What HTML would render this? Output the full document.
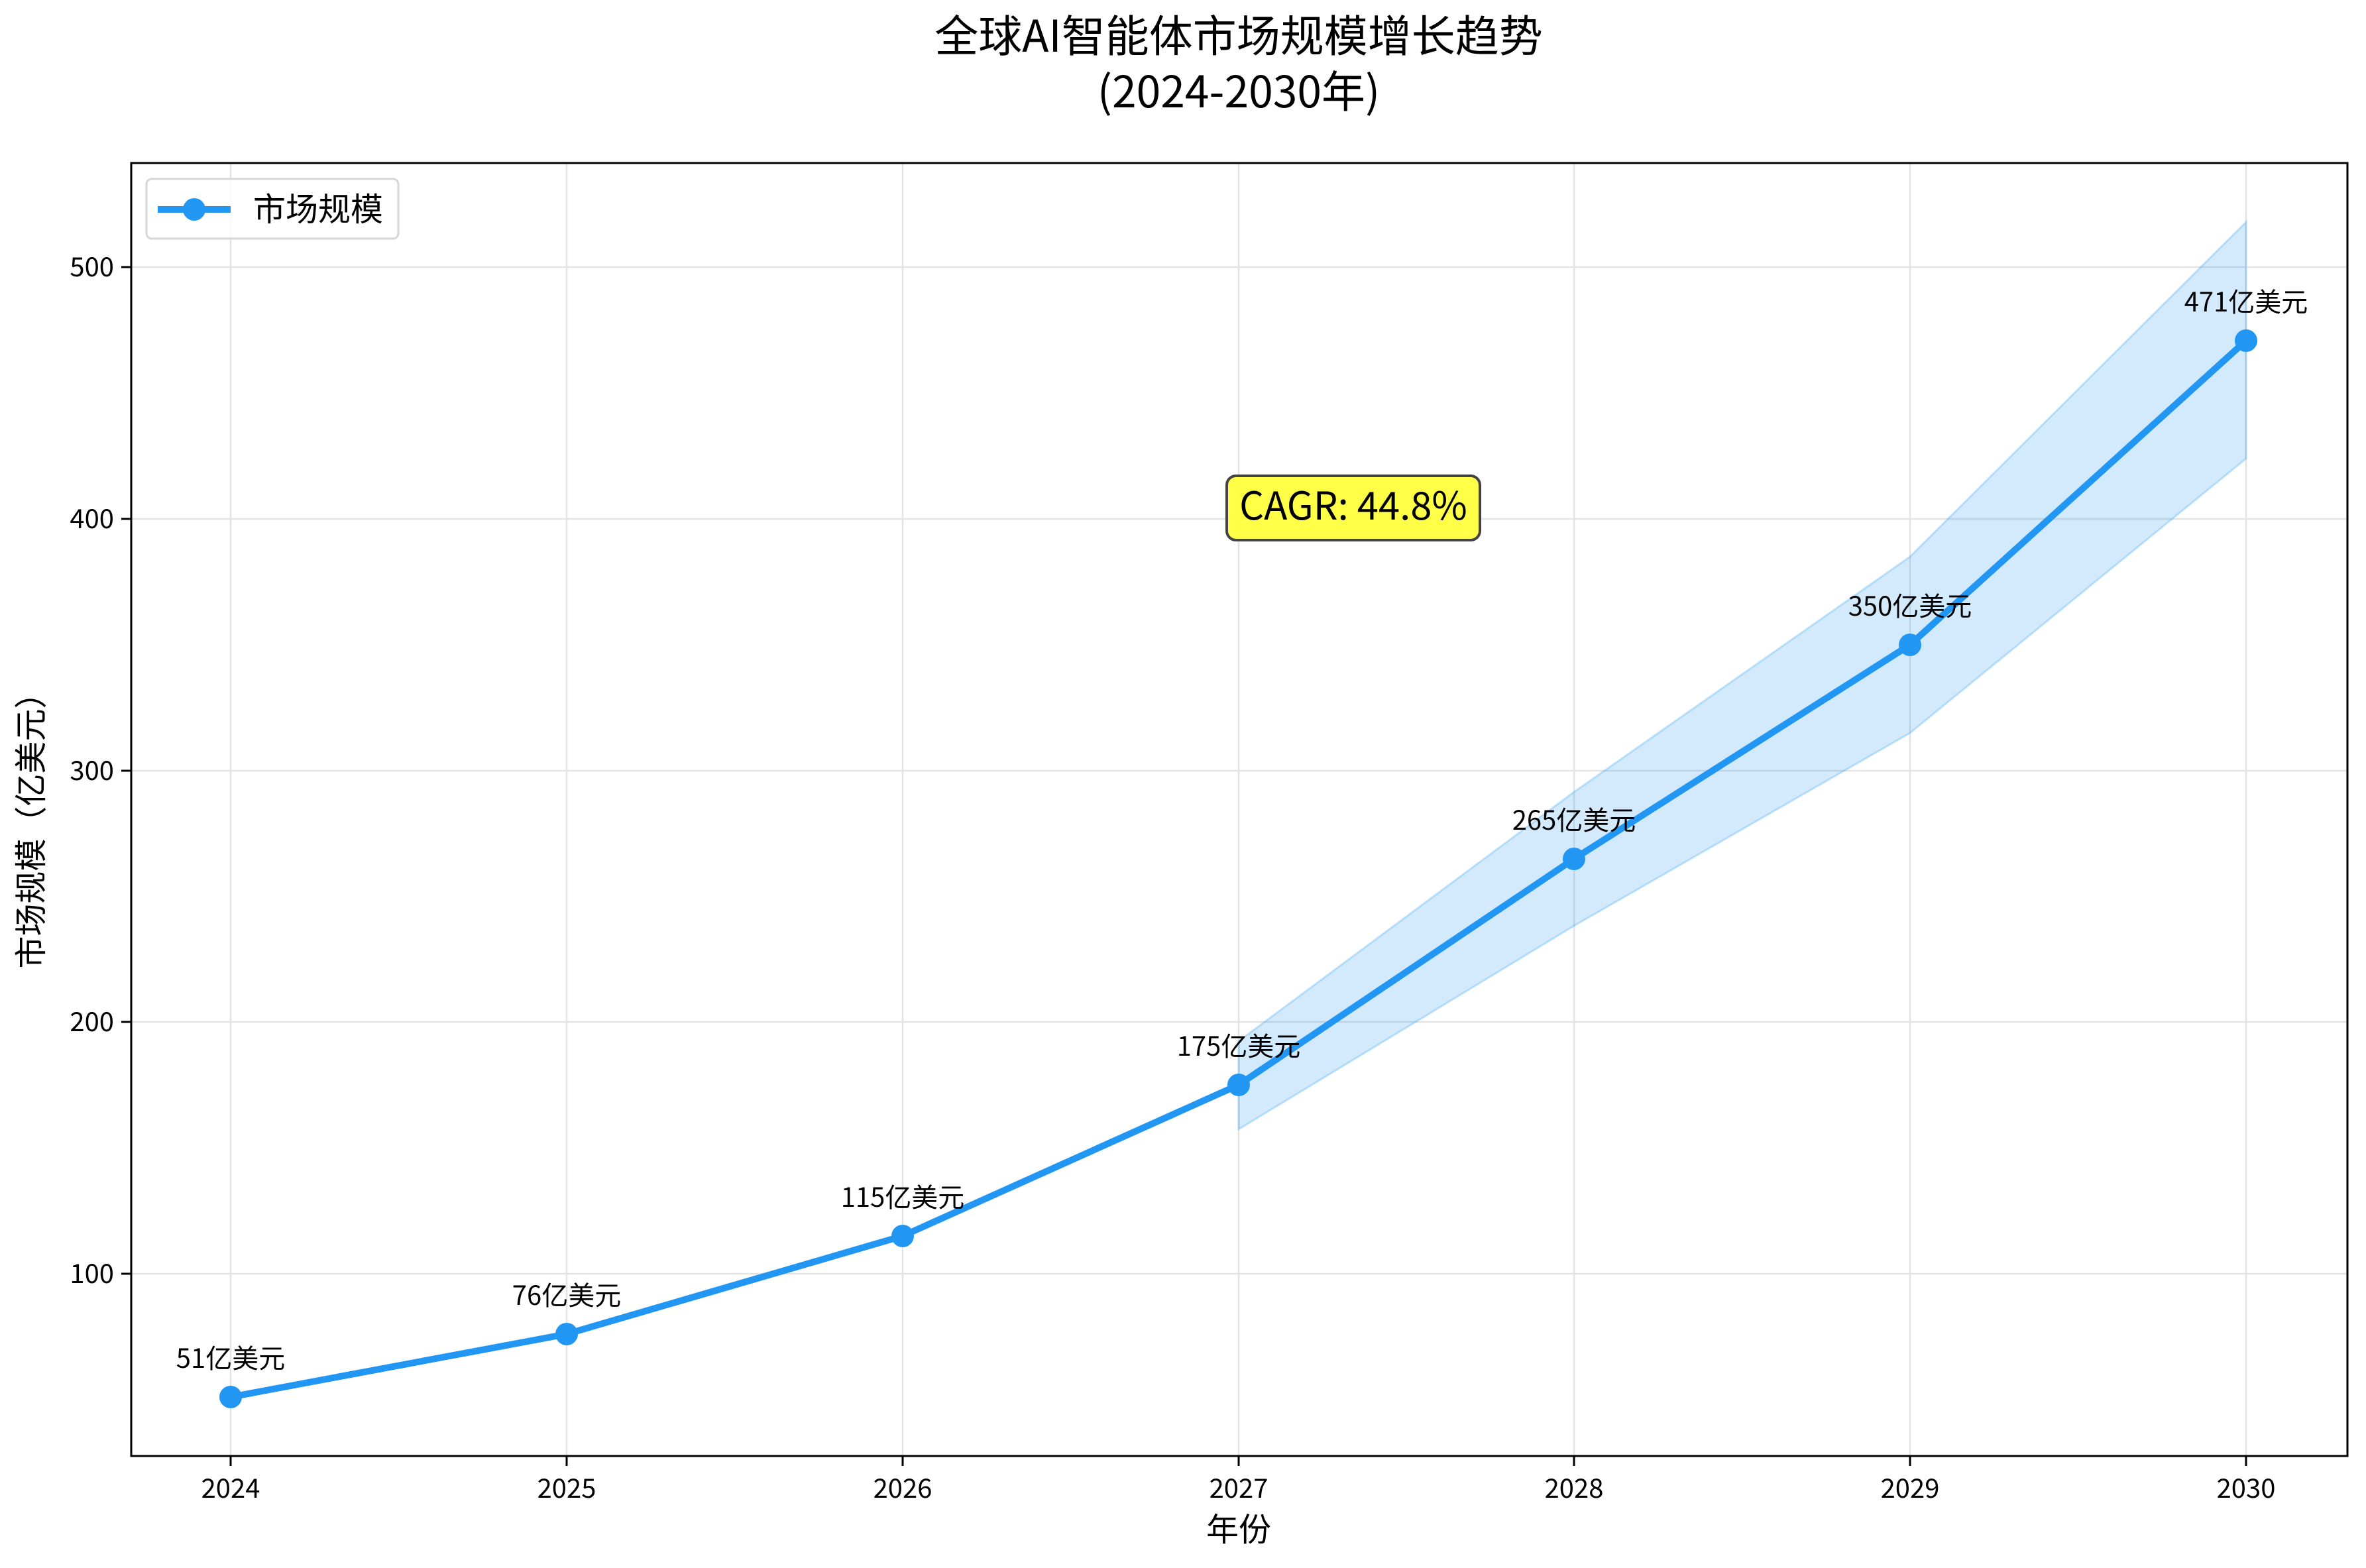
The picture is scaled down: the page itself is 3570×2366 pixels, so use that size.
<!DOCTYPE html>
<html><head><meta charset="utf-8"><style>
html,body{margin:0;padding:0;background:#fff;}
svg{display:block;font-family:"Noto Sans CJK SC","Liberation Sans",sans-serif;}
</style></head><body>
<svg width="3570" height="2366" viewBox="0 0 3570 2366" xmlns="http://www.w3.org/2000/svg">
<rect width="3570" height="2366" fill="#fff"/>
<text x="1869" y="78" font-size="66" text-anchor="middle" fill="#000">全球AI智能体市场规模增长趋势</text>
<text x="1869" y="162" font-size="66" text-anchor="middle" fill="#000">(2024-2030年)</text>
<g stroke="#e3e3e3" stroke-width="2.5">
<line x1="348" y1="246" x2="348" y2="2197"/>
<line x1="855" y1="246" x2="855" y2="2197"/>
<line x1="1362" y1="246" x2="1362" y2="2197"/>
<line x1="1869" y1="246" x2="1869" y2="2197"/>
<line x1="2375" y1="246" x2="2375" y2="2197"/>
<line x1="2882" y1="246" x2="2882" y2="2197"/>
<line x1="3389" y1="246" x2="3389" y2="2197"/>
<line x1="198" y1="1922" x2="3542" y2="1922"/>
<line x1="198" y1="1542" x2="3542" y2="1542"/>
<line x1="198" y1="1163" x2="3542" y2="1163"/>
<line x1="198" y1="783" x2="3542" y2="783"/>
<line x1="198" y1="403" x2="3542" y2="403"/>
</g>
<polygon points="1869,1571 2375,1195 2882,840 3389,335 3389,692 2882,1106 2375,1397 1869,1704" fill="#2196F3" fill-opacity="0.2" stroke="#2196F3" stroke-opacity="0.25" stroke-width="3"/>
<polyline points="348,2108 855,2013 1362,1865 1869,1637 2375,1296 2882,973 3389,514" fill="none" stroke="#2196F3" stroke-width="10" stroke-linejoin="round"/>
<g fill="#2196F3">
<circle cx="348" cy="2108" r="17"/><circle cx="855" cy="2013" r="17"/><circle cx="1362" cy="1865" r="17"/><circle cx="1869" cy="1637" r="17"/><circle cx="2375" cy="1296" r="17"/><circle cx="2882" cy="973" r="17"/><circle cx="3389" cy="514" r="17"/>
</g>
<g font-size="40" text-anchor="middle" fill="#000">
<text x="348" y="2064">51亿美元</text>
<text x="855" y="1969">76亿美元</text>
<text x="1362" y="1821">115亿美元</text>
<text x="1869" y="1593">175亿美元</text>
<text x="2375" y="1252">265亿美元</text>
<text x="2882" y="929">350亿美元</text>
<text x="3389" y="470">471亿美元</text>
</g>
<rect x="1851" y="718" width="382" height="97" rx="14" fill="#ffff33" fill-opacity="0.9" stroke="#444" stroke-width="4"/>
<text x="2042" y="784" font-size="58" text-anchor="middle" fill="#000">CAGR: 44.8%</text>
<rect x="198" y="246" width="3344" height="1951" fill="none" stroke="#000" stroke-width="3"/>
<g stroke="#000" stroke-width="3">
<line x1="348" y1="2197" x2="348" y2="2212"/><line x1="855" y1="2197" x2="855" y2="2212"/><line x1="1362" y1="2197" x2="1362" y2="2212"/><line x1="1869" y1="2197" x2="1869" y2="2212"/><line x1="2375" y1="2197" x2="2375" y2="2212"/><line x1="2882" y1="2197" x2="2882" y2="2212"/><line x1="3389" y1="2197" x2="3389" y2="2212"/>
<line x1="183" y1="1922" x2="198" y2="1922"/><line x1="183" y1="1542" x2="198" y2="1542"/><line x1="183" y1="1163" x2="198" y2="1163"/><line x1="183" y1="783" x2="198" y2="783"/><line x1="183" y1="403" x2="198" y2="403"/>
</g>
<g font-size="40" fill="#000" text-anchor="middle">
<text x="348" y="2260">2024</text><text x="855" y="2260">2025</text><text x="1362" y="2260">2026</text><text x="1869" y="2260">2027</text><text x="2375" y="2260">2028</text><text x="2882" y="2260">2029</text><text x="3389" y="2260">2030</text>
</g>
<g font-size="40" fill="#000" text-anchor="end">
<text x="172" y="1936">100</text><text x="172" y="1556">200</text><text x="172" y="1177">300</text><text x="172" y="797">400</text><text x="172" y="417">500</text>
</g>
<text x="1869" y="2325" font-size="49" text-anchor="middle" fill="#000">年份</text>
<text transform="translate(64,1241) rotate(-90)" font-size="49" text-anchor="middle" fill="#000">市场规模（亿美元）</text>
<rect x="221" y="270" width="380" height="90" rx="8" fill="#fff" fill-opacity="0.8" stroke="#d6d6d6" stroke-width="3"/>
<line x1="238" y1="316" x2="348" y2="316" stroke="#2196F3" stroke-width="10"/>
<circle cx="293" cy="316" r="17" fill="#2196F3"/>
<text x="382" y="333" font-size="49" fill="#000">市场规模</text>
</svg>
</body></html>
